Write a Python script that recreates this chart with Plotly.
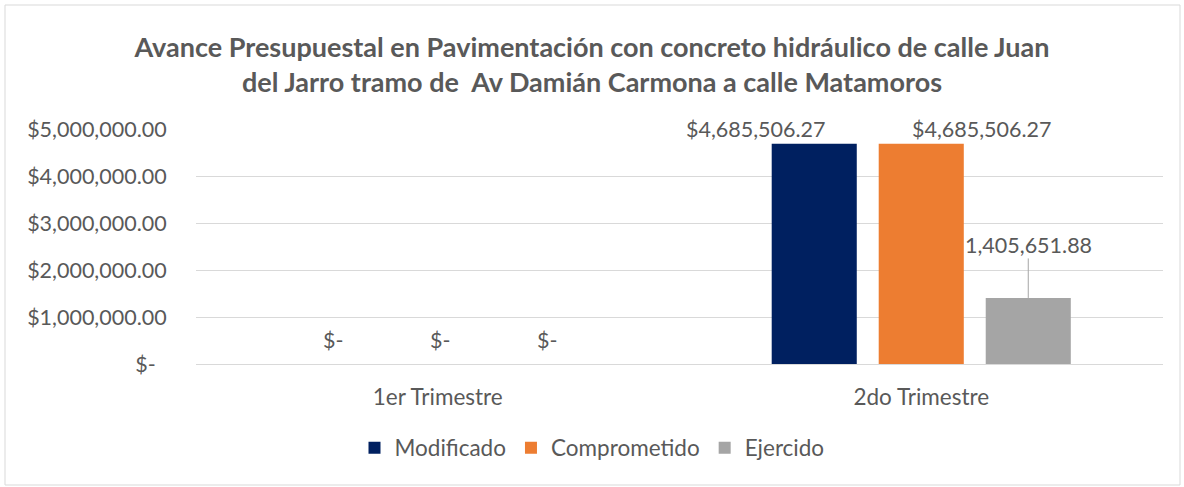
import plotly.graph_objects as go

categories = ["1er Trimestre", "2do Trimestre"]
series_names = ["Modificado", "Comprometido", "Ejercido"]
modificado = [0, 4685506.27]
comprometido = [0, 4685506.27]
ejercido = [0, 1405651.88]
tick_values = [0, 1000000, 2000000, 3000000, 4000000, 5000000]
tick_labels = ["$-\u00a0\u00a0", "$1,000,000.00", "$2,000,000.00", "$3,000,000.00",
               "$4,000,000.00", "$5,000,000.00"]

colors = ["#002060", "#ED7D31", "#A5A5A5"]
series = [modificado, comprometido, ejercido]
FONT = "Lato"
TXT = "#595959"
NUM = 21.5
LAB = 22.5
W, H = 1184, 487
L, R, T, B = 196, 21, 129, 123
bargap = 0.336
bargroupgap = 0.205

xs = list(range(len(categories)))
fig = go.Figure()
for name, vals, col in zip(series_names, series, colors):
    fig.add_trace(go.Bar(x=xs, y=vals, name=name, marker=dict(color=col, line=dict(width=0))))

def fmt_money(v, dollar=True):
    if v == 0:
        return "$-"
    s = f"{v:,.2f}"
    return ("$" + s) if dollar else s

n = len(series)
slot = (1 - bargap) / n
ann = []
# label offsets (px) as placed in the reference
label_style = {
    0: dict(xshift=-58, yshift=0, dollar=True),
    1: dict(xshift=61, yshift=0, dollar=True),
}
for i, vals in enumerate(series):
    off = (i - (n - 1) / 2) * slot
    for j, v in enumerate(vals):
        xpos = xs[j] + off
        if v == 0:
            ann.append(dict(x=xpos, y=v, xref="x", yref="y", text=fmt_money(v), showarrow=False,
                            yanchor="bottom", yshift=9, xshift=2,
                            font=dict(family=FONT, size=NUM, color=TXT)))
        elif i in label_style:
            st = label_style[i]
            ann.append(dict(x=xpos, y=v, xref="x", yref="y", text=fmt_money(v, st["dollar"]),
                            showarrow=False, yanchor="bottom", xshift=st["xshift"], yshift=st["yshift"],
                            font=dict(family=FONT, size=NUM, color=TXT)))
        else:
            ann.append(dict(x=xpos, y=v, xref="x", yref="y", text=fmt_money(v, False),
                            showarrow=True, arrowhead=0, arrowwidth=1, arrowcolor="#A5A5A5",
                            ax=0, ay=-53, standoff=0, borderpad=0,
                            font=dict(family=FONT, size=NUM, color=TXT)))

pw = W - L - R
ph = H - T - B
def px_to_paper_x(p):
    return (p - L) / pw
def px_to_paper_y(p):
    return (H - B - p) / ph

fig.update_layout(
    width=W, height=H,
    margin=dict(l=L, r=R, t=T, b=B, pad=0),
    paper_bgcolor="white", plot_bgcolor="white",
    barmode="group", bargap=bargap, bargroupgap=bargroupgap,
    title=dict(text="Avance Presupuestal en Pavimentación con concreto hidráulico de calle Juan<br>del Jarro tramo de  Av Damián Carmona a calle Matamoros",
               x=0.5, xref="container", xanchor="center", y=1 - 57 / H, yref="container", yanchor="middle",
               font=dict(family=FONT, size=27, color=TXT, weight="bold")),
    font=dict(family=FONT, size=LAB, color=TXT),
    showlegend=True,
    legend=dict(orientation="h", x=0.5, xref="container", xanchor="center",
                y=1 - 448 / H, yref="container", yanchor="middle",
                font=dict(family=FONT, size=LAB, color=TXT), traceorder="normal",
                itemwidth=30),
    xaxis=dict(tickmode="array", tickvals=xs, ticktext=categories, range=[-0.5, len(xs) - 0.5],
               showgrid=False, showline=True, linecolor="#D9D9D9", linewidth=1,
               ticks="outside", ticklen=13, tickcolor="rgba(0,0,0,0)",
               tickfont=dict(family=FONT, size=LAB, color=TXT), zeroline=False),
    yaxis=dict(tickmode="array", tickvals=tick_values, ticktext=tick_labels, range=[0, 5000000],
               showgrid=True, gridcolor="#D9D9D9", gridwidth=1, zeroline=False, showline=False,
               ticks="outside", ticklen=24, tickcolor="rgba(0,0,0,0)",
               tickfont=dict(family=FONT, size=NUM, color=TXT)),
    annotations=ann,
    shapes=[dict(type="rect", xref="paper", yref="paper",
                 x0=px_to_paper_x(5), x1=px_to_paper_x(1180),
                 y0=px_to_paper_y(485), y1=px_to_paper_y(5),
                 line=dict(color="#D9D9D9", width=1), fillcolor="rgba(0,0,0,0)", layer="below")],
)

fig.write_html("out.html", config={"displayModeBar": False},
               post_script="document.body.style.margin='0';")
